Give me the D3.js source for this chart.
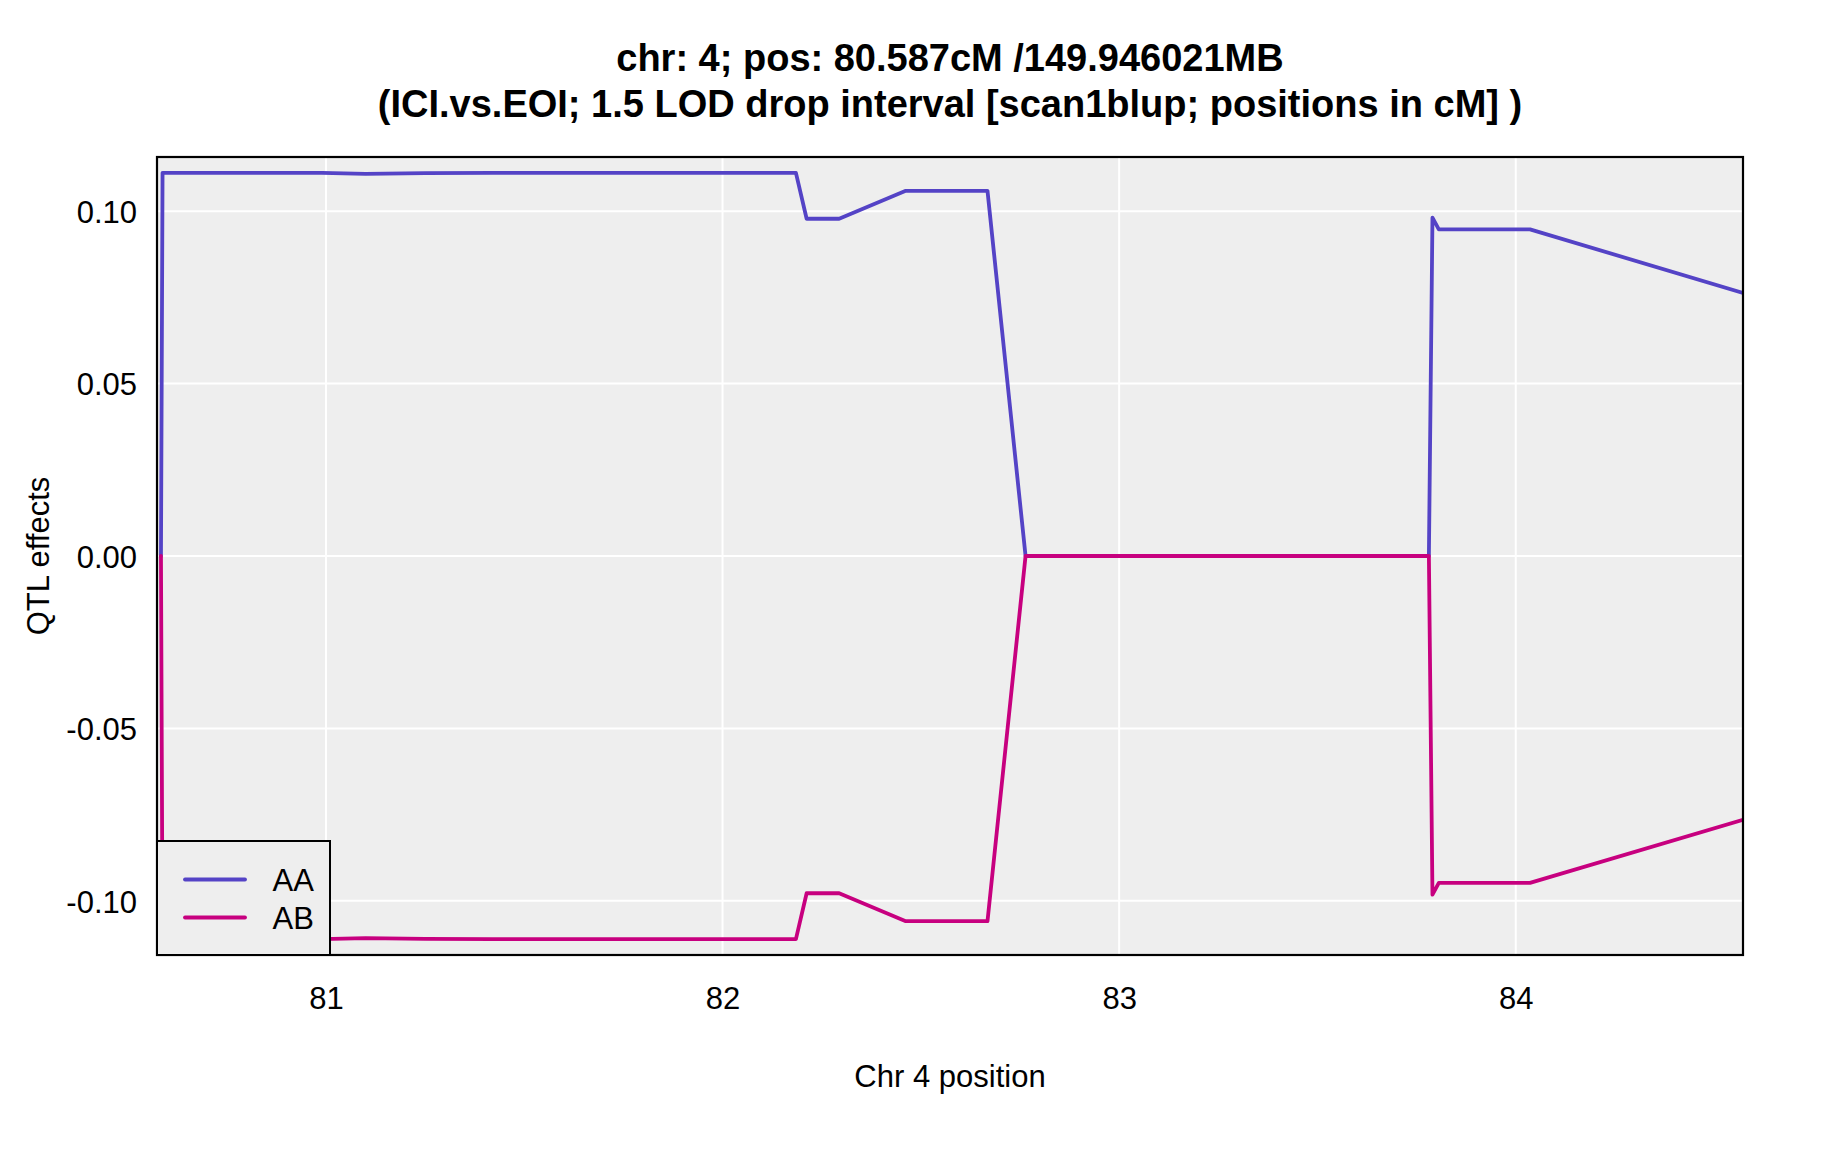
<!DOCTYPE html>
<html>
<head>
<meta charset="utf-8">
<script src="https://cdn.jsdelivr.net/npm/d3@7"></script>
<style>
  html, body { margin: 0; padding: 0; background: #ffffff; }
  svg { display: block; }
  text { font-family: "Liberation Sans", Arial, sans-serif; fill: #000; }
</style>
</head>
<body>
<svg id="chart" width="1824" height="1152"></svg>
<script>
// ---- data ----
const titleLines = [
  "chr: 4; pos: 80.587cM /149.946021MB",
  "(ICI.vs.EOI; 1.5 LOD drop interval [scan1blup; positions in cM] )"
];
const xLabel = "Chr 4 position";
const yLabel = "QTL effects";
const xTicks = [81, 82, 83, 84];
const yTicks = [-0.10, -0.05, 0.00, 0.05, 0.10];
const yTickLabels = ["-0.10", "-0.05", "0.00", "0.05", "0.10"];
const seriesNames = ["AA", "AB"];
const seriesColors = ["#5443c6", "#c7007f"];

const positions = [80.584, 80.588, 80.99, 81.10, 81.25, 81.42, 81.75, 82.185, 82.212, 82.294, 82.462, 82.668, 82.764, 83.781, 83.790, 83.806, 84.036, 84.573];
const effectAA  = [0.0000, 0.1111, 0.1111, 0.1108, 0.1110, 0.1111, 0.1111, 0.1111, 0.0978, 0.0978, 0.1059, 0.1059, 0.0000, 0.0000, 0.0981, 0.0947, 0.0947, 0.0763];
const effectAB  = [0.0000, -0.1111, -0.1111, -0.1108, -0.1110, -0.1111, -0.1111, -0.1111, -0.0978, -0.0978, -0.1059, -0.1059, 0.0000, 0.0000, -0.0982, -0.0948, -0.0948, -0.0765];
const xDomain = [80.574, 84.573];
const yDomain = [-0.1157, 0.1157];

// ---- layout ----
const svg = d3.select("#chart");
const L = 157, R = 1743, T = 157, B = 955;
const x = d3.scaleLinear().domain(xDomain).range([L, R]);
const y = d3.scaleLinear().domain(yDomain).range([B, T]);

svg.append("defs").append("clipPath").attr("id", "clip")
  .append("rect").attr("x", L).attr("y", T).attr("width", R - L).attr("height", B - T);

// panel
svg.append("rect").attr("x", L).attr("y", T).attr("width", R - L).attr("height", B - T)
  .attr("fill", "#eeeeee");

// grid
const grid = svg.append("g");
grid.selectAll("line.gx").data(xTicks).enter().append("line")
  .attr("x1", d => x(d)).attr("x2", d => x(d)).attr("y1", T).attr("y2", B)
  .attr("stroke", "#ffffff").attr("stroke-width", 2);
grid.selectAll("line.gy").data(yTicks).enter().append("line")
  .attr("y1", d => y(d)).attr("y2", d => y(d)).attr("x1", L).attr("x2", R)
  .attr("stroke", "#ffffff").attr("stroke-width", 2);

// lines
const seriesData = [effectAA, effectAB];
const line = d3.line().x(d => x(d[0])).y(d => y(d[1]));
const lines = svg.append("g").attr("clip-path", "url(#clip)");
seriesData.forEach((vals, i) => {
  lines.append("path")
    .datum(positions.map((p, j) => [p, vals[j]]))
    .attr("d", line)
    .attr("fill", "none")
    .attr("stroke", seriesColors[i])
    .attr("stroke-width", 3.8)
    .attr("stroke-linejoin", "round")
    .attr("stroke-linecap", "round");
});

// border
svg.append("rect").attr("x", L).attr("y", T).attr("width", R - L).attr("height", B - T)
  .attr("fill", "none").attr("stroke", "#000").attr("stroke-width", 2.2);

// axes tick labels (no tick marks)
const xAxis = d3.axisBottom(x).tickValues(xTicks).tickSize(0).tickFormat(d3.format("d"));
const gx = svg.append("g").attr("transform", `translate(0,${B})`).call(xAxis);
gx.select(".domain").remove();
gx.selectAll("text").attr("font-size", 31).attr("dy", null).attr("y", 54)
  .style("font-family", '"Liberation Sans", Arial, sans-serif').attr("fill", "#000");

const yAxis = d3.axisLeft(y).tickValues(yTicks).tickSize(0)
  .tickFormat((d, i) => yTickLabels[i]);
const gy = svg.append("g").attr("transform", `translate(${L},0)`).call(yAxis);
gy.select(".domain").remove();
gy.selectAll("text").attr("font-size", 31).attr("x", -20).attr("dy", "0.36em")
  .style("font-family", '"Liberation Sans", Arial, sans-serif').attr("fill", "#000");

// axis titles
svg.append("text").attr("x", (L + R) / 2).attr("y", 1087).attr("text-anchor", "middle")
  .attr("font-size", 31).text(xLabel);
svg.append("text").attr("transform", `translate(49,${(T + B) / 2}) rotate(-90)`)
  .attr("text-anchor", "middle").attr("font-size", 31).text(yLabel);

// title
svg.selectAll("text.title").data(titleLines).enter().append("text")
  .attr("class", "title")
  .attr("x", (L + R) / 2).attr("y", (d, i) => 71 + i * 46)
  .attr("text-anchor", "middle").attr("font-size", 38).attr("font-weight", "bold")
  .text(d => d);

// legend
const lg = svg.append("g");
lg.append("rect").attr("x", L).attr("y", 841).attr("width", 330 - L).attr("height", B - 841)
  .attr("fill", "#eeeeee").attr("stroke", "#000").attr("stroke-width", 2);
seriesNames.forEach((name, i) => {
  const yy = 879.5 + i * 38;
  lg.append("line").attr("x1", 185).attr("x2", 245).attr("y1", yy).attr("y2", yy)
    .attr("stroke", seriesColors[i]).attr("stroke-width", 3.8).attr("stroke-linecap", "round");
  lg.append("text").attr("x", 272.5).attr("y", yy).attr("dy", "0.36em")
    .attr("font-size", 31).text(name);
});
</script>
</body>
</html>
